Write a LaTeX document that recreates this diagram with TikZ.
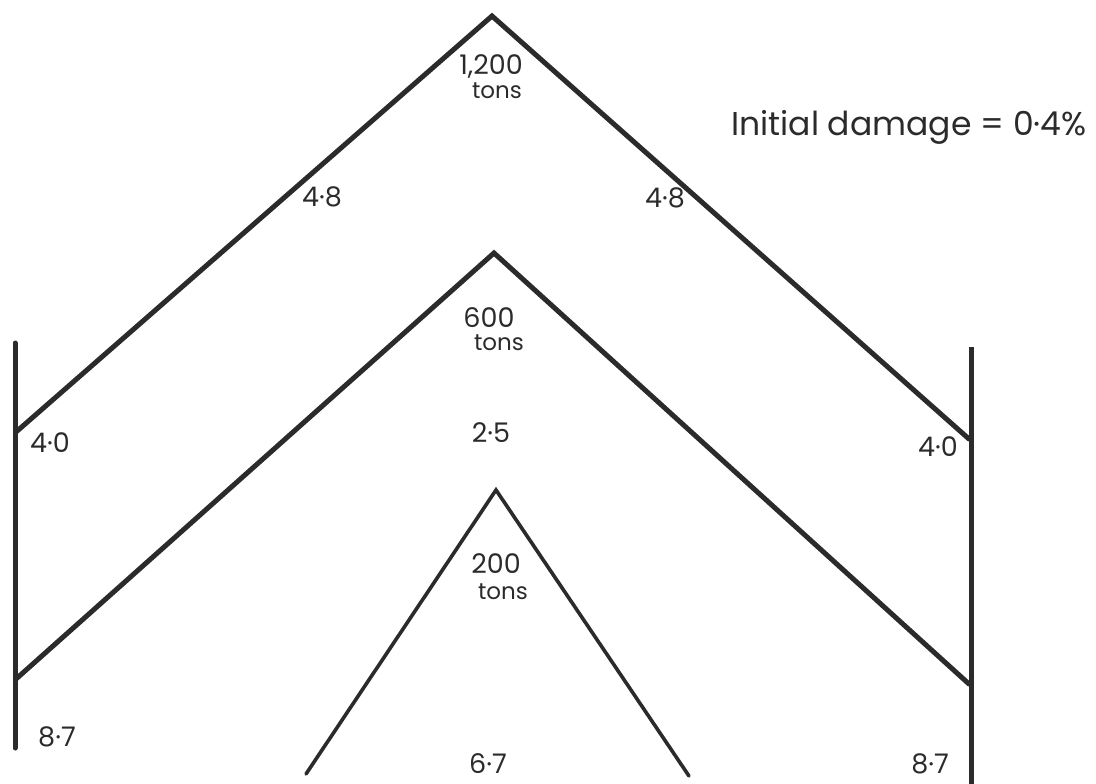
\documentclass[tikz,border=0pt]{standalone}
\usepackage{fontspec}
\setmainfont{Poppins}
\usepackage{tikz}
\usetikzlibrary{calc,positioning}
\definecolor{inkgrey}{HTML}{2B2B2B}

\tikzset{
  member/.style={draw=inkgrey, line width=5pt, line join=miter, line cap=round},
  thinmember/.style={member, line width=3.6pt},
  loadlbl/.style={text=inkgrey, inner sep=0pt, font=\fontsize{27}{27}\selectfont},
  tonlbl/.style={text=inkgrey, inner sep=0pt, font=\fontsize{23}{23}\selectfont},
  damlbl/.style={text=inkgrey, inner sep=0pt, font=\fontsize{33}{33}\selectfont}
}

\begin{document}
\begin{tikzpicture}[x=1pt, y=-1pt]
  \useasboundingbox (0,0) rectangle (1096,784);
  % supports and junctions
  \coordinate (lefttop) at (15,343);
  \coordinate (leftbot) at (15,748);
  \coordinate (righttop) at (971,347);
  \coordinate (rightbot) at (971,784);
  \coordinate (upperL) at (16,432);
  \coordinate (upperR) at (969,439);
  \coordinate (middleL) at (16,679);
  \coordinate (middleR) at (969,684);
  % apexes and feet
  \coordinate (apexA) at (492,16);
  \coordinate (apexB) at (494,253);
  \coordinate (apexC) at (496,490);
  \coordinate (footL) at (306,774);
  \coordinate (footR) at (689,776);

  \draw[member] (lefttop) -- (leftbot);
  \draw[member, line cap=butt] (righttop) -- (rightbot);
  \draw[member] (upperL) -- (apexA) -- (upperR);
  \draw[member] (middleL) -- (apexB) -- (middleR);
  \draw[thinmember] (footL) -- (apexC) -- (footR);

  % loads
  \node[loadlbl] (loadA) at (491,66) {1,200};
  \node[tonlbl] (tonsA) at (497,91) {tons};
  \node[loadlbl] (loadB) at (489,318) {600};
  \node[tonlbl] (tonsB) at (499,343) {tons};
  \node[loadlbl] (loadC) at (496,564) {200};
  \node[tonlbl] (tonsC) at (503,592) {tons};

  % damage values
  \node[loadlbl] (dmgAL) at (322,197) {4·8};
  \node[loadlbl] (dmgAR) at (665,198) {4·8};
  \node[loadlbl] (dmgUL) at (50,443) {4·0};
  \node[loadlbl] (dmgB) at (491,433) {2·5};
  \node[loadlbl] (dmgUR) at (938,447) {4·0};
  \node[loadlbl] (dmgLL) at (57,737) {8·7};
  \node[loadlbl] (dmgC) at (488,764) {6·7};
  \node[loadlbl] (dmgLR) at (930,764) {8·7};

  \node[damlbl, anchor=west] (initial) at (731,127) {Initial damage = 0·4\%};
\end{tikzpicture}
\end{document}
